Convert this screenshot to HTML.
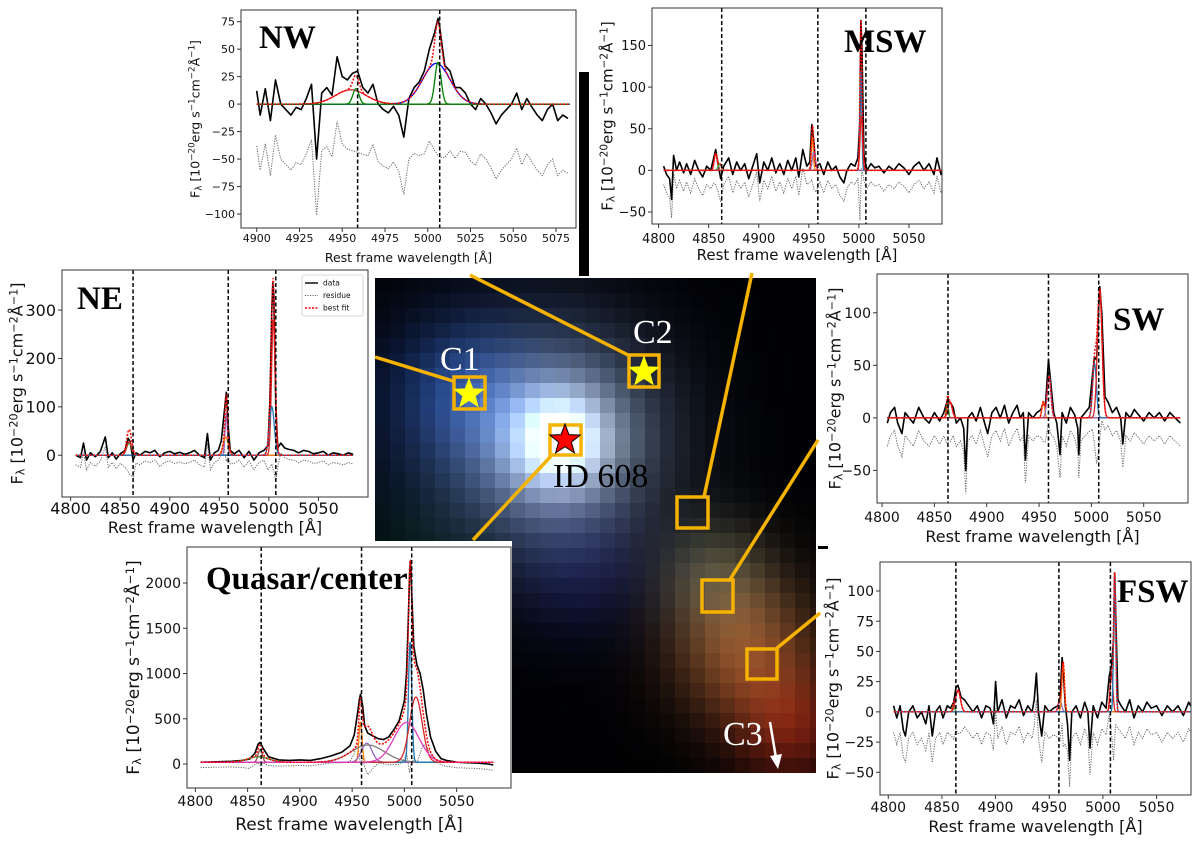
<!DOCTYPE html>
<html><head><meta charset="utf-8"><title>ID 608 spectra</title>
<style>
html,body{margin:0;padding:0;background:#fff;}
svg{display:block;font-family:"DejaVu Sans","Liberation Sans",sans-serif;}
.pl{font-family:"Liberation Serif",serif;font-weight:bold;}
.img-t{font-family:"Liberation Serif",serif;}
</style></head>
<body>
<svg id="fig" width="1200" height="842" viewBox="0 0 1200 842" xmlns="http://www.w3.org/2000/svg">
<defs>
<clipPath id="imgclip"><rect x="375" y="278" width="441" height="495"/></clipPath>
</defs>
<rect x="0" y="0" width="1200" height="842" fill="#fff"/>
<g id="image" clip-path="url(#imgclip)"></g>
<rect x="579" y="72" width="10" height="204" fill="#000"/>
<rect x="818" y="546" width="10" height="3" fill="#000"/>
<rect x="88" y="541" width="424" height="305" fill="#fff"/>
<g id="overlay"></g>
<g id="panels"></g>
</svg>
<script>
// ---------- DATA ----------
const dashedLines = [4863, 4959, 5007];
const nwDashed = [4959, 5007];
const xTicksWide = [4800, 4850, 4900, 4950, 5000, 5050];
const xTicksNW = [4900, 4925, 4950, 4975, 5000, 5025, 5050, 5075];

// NW
const nwWaves = [4900,4902,4905,4908,4911,4914,4917,4920,4923,4926,4929,4932,4935,4938,4941,4944,4947,4950,4953,4956,4959,4962,4965,4968,4971,4974,4977,4980,4983,4986,4989,4992,4995,4998,5001,5004,5006,5007,5010,5013,5016,5019,5022,5025,5028,5031,5034,5037,5040,5043,5046,5049,5052,5055,5058,5061,5064,5067,5070,5073,5076,5079,5082];
const nwFlux = [12,-10,14,-15,22,0,-5,-10,-3,-5,5,18,-50,10,15,8,43,25,22,28,30,15,10,18,0,-5,-8,-2,-10,-30,5,15,20,30,50,65,78,70,35,30,15,15,10,0,-5,5,0,-8,-18,-10,-5,0,10,-5,5,-3,-10,-15,-5,0,-15,-10,-13];
const nwCenters = [4955, 4958, 5005, 5006];
const nwAmps = [13, 14, 37, 38];
const nwSigmas = [9, 1.8, 8, 1.8];
const nwYTicks = [-100,-75,-50,-25,0,25,50,75];

// MSW
const mswWaves = [4805,4808,4811,4813,4815,4818,4821,4825,4828,4832,4836,4840,4844,4848,4852,4855,4857,4859,4862,4865,4870,4874,4878,4882,4886,4890,4894,4898,4901,4905,4909,4913,4917,4921,4925,4929,4933,4937,4940,4944,4948,4951,4953,4955,4957,4961,4965,4969,4973,4977,4981,4985,4988,4992,4996,4999,5001,5002,5003,5005,5008,5012,5016,5020,5025,5030,5035,5040,5045,5050,5055,5060,5065,5070,5075,5078,5082,5085];
const mswFlux = [5,-5,-10,-35,18,0,10,-3,8,-5,12,0,-8,5,0,15,25,10,-10,5,15,-5,10,0,8,-10,5,20,-15,10,0,15,-3,8,-5,12,0,15,-8,25,5,10,55,35,5,8,-5,10,0,5,-8,-15,0,8,5,15,60,180,150,20,0,8,3,5,-3,5,0,8,3,-5,5,10,0,8,-5,15,-5,5];
const mswCenters = [4857, 4861, 4953.5, 4955, 5002, 5002.5];
const mswAmps = [20, 8, 40, 22, 120, 65];
const mswSigmas = [1.5, 1.5, 1, 1.5, 0.9, 1.3];
const mswYTicks = [-50,0,50,100,150];

// NE
const neWaves = [4805,4810,4813,4816,4820,4825,4830,4835,4838,4842,4846,4850,4855,4858,4860,4863,4866,4870,4875,4880,4885,4890,4895,4900,4905,4910,4915,4920,4925,4930,4935,4938,4941,4945,4949,4952,4955,4957,4959,4961,4965,4970,4975,4980,4985,4990,4995,4999,5001,5003,5004,5005,5007,5009,5012,5016,5020,5025,5030,5035,5040,5045,5050,5055,5060,5065,5070,5075,5080,5085];
const neFlux = [0,-5,25,-10,5,-3,8,38,-5,5,-8,3,10,35,28,-10,5,0,8,5,10,-3,5,8,3,6,2,5,10,0,-5,45,-10,5,10,30,90,130,60,10,3,10,-5,8,-10,5,10,20,110,300,355,330,100,15,25,15,12,10,5,10,8,3,5,8,0,5,3,0,5,2];
const neCenters = [4859, 4859, 4957, 4956.5, 5004.5, 5003];
const neAmps = [25, 28, 85, 38, 280, 100];
const neSigmas = [2.5, 2.5, 1.2, 2.5, 1.8, 2.5];
const neYTicks = [0,100,200,300];

// Quasar / center
const qWaves = [4805,4820,4835,4845,4852,4857,4860,4862,4865,4870,4880,4890,4900,4910,4920,4930,4940,4948,4952,4955,4957,4958,4960,4962,4965,4970,4975,4980,4985,4990,4995,5000,5002,5004,5005,5006,5007,5009,5012,5015,5018,5021,5025,5030,5035,5040,5050,5060,5070,5080,5085];
const qFlux = [20,25,30,40,55,120,220,240,170,80,45,40,45,40,60,90,130,200,320,550,720,770,650,420,340,310,280,270,300,380,480,700,1000,1700,2100,2250,1900,1300,1100,1000,820,560,300,140,60,40,20,15,10,0,-10];
const qCenters = [4860, 4862, 4958, 4964, 4965, 5005.5, 5011, 5002];
const qAmps = [60, 140, 440, 210, 190, 1330, 720, 440];
const qSigmas = [10, 2, 1.5, 5, 16, 1.6, 6, 12];
const qCont = 20;
const qYTicks = [0,500,1000,1500,2000];

// SW
const swWaves = [4805,4808,4812,4815,4819,4822,4826,4830,4835,4840,4845,4850,4855,4859,4862,4865,4868,4871,4875,4878,4880,4882,4886,4890,4894,4898,4901,4905,4909,4913,4917,4921,4925,4929,4932,4935,4937,4940,4944,4948,4952,4954,4956,4958,4959,4961,4964,4967,4970,4972,4976,4980,4984,4987,4988,4990,4994,4998,5001,5003,5005,5007,5008,5010,5013,5016,5020,5024,5028,5030,5033,5037,5041,5045,5050,5055,5060,5065,5070,5075,5080,5085];
const swFlux = [-5,5,10,-5,-15,5,0,-5,10,0,-5,5,-3,5,15,15,10,-5,0,-10,-50,0,5,-3,10,-5,-15,5,10,0,12,-5,5,12,0,5,-40,5,0,5,8,15,10,40,55,35,5,-5,-35,5,-5,10,3,-10,-35,0,5,10,40,58,55,105,125,100,20,15,5,10,0,-25,5,0,8,3,-3,5,0,5,-3,5,0,-5];
const swCenters = [4862.5, 4865, 4954, 4959.5, 5003, 5008];
const swAmps = [14, 15, 15, 40, 52, 122];
const swSigmas = [1, 2, 1.3, 1.8, 1.8, 2.2];
const swYTicks = [-50,0,50,100];

// FSW
const fswWaves = [4805,4808,4811,4814,4816,4819,4823,4827,4831,4835,4838,4841,4844,4848,4851,4855,4858,4861,4863,4865,4868,4871,4875,4879,4883,4887,4891,4895,4898,4900,4902,4906,4910,4914,4918,4922,4926,4930,4934,4936,4938,4940,4943,4946,4950,4954,4958,4960,4962,4963,4965,4967,4969,4971,4975,4979,4983,4986,4988,4991,4995,4999,5003,5006,5008,5010,5011,5012,5014,5017,5021,5025,5029,5033,5037,5041,5045,5050,5055,5060,5065,5070,5075,5080,5085];
const fswFlux = [5,-5,5,-15,-20,0,5,-5,0,-10,5,-20,0,5,-5,5,3,8,20,22,12,10,5,0,5,-5,5,3,-10,25,0,10,-5,5,3,10,-3,5,0,10,32,0,-20,5,0,3,5,10,45,35,5,-10,-40,0,5,-5,8,0,-30,5,-5,8,3,30,38,60,115,80,10,5,0,10,-5,5,0,8,3,5,-3,5,0,5,-3,8,0];
const fswCenters = [4861, 4865, 4960, 4963, 5008, 5011];
const fswAmps = [5, 18, 10, 40, 32, 113];
const fswSigmas = [1, 2.2, 1.5, 1.2, 1.3, 1];
const fswYTicks = [-50,-25,0,25,50,75,100];

// ---------- STYLE / LAYOUT (not data) ----------
const NS = "http://www.w3.org/2000/svg";
function mk(parent, tag, attrs) {
  const e = document.createElementNS(NS, tag);
  for (const k in attrs) e.setAttribute(k, attrs[k]);
  parent.appendChild(e);
  return e;
}
const C = {blue:'#1f77b4', orange:'#ff7f0e', green:'#2ca02c', red:'#d62728', purple:'#9467bd', brown:'#8c564b', pink:'#e377c2', gray:'#7f7f7f'};

const panels = [
 {name:'nw', label:'NW', lx:259, ly:48, box:[241,10,576,228], xl:[4890.8,5086.7], yl:[-112.7,85.6],
  xt:xTicksNW, yt:nwYTicks, dash:nwDashed, waves:nwWaves, flux:nwFlux, cen:nwCenters, amp:nwAmps, sig:nwSigmas, cont:0,
  colors:['#d62728','#008000','#0000ff','#008000'], base:'#800080', range:[4900,5083], fs:11, lfs:12.5, ylx:195, xtb:242, xlb:262, off:-50},
 {name:'msw', label:'MSW', lx:844, ly:52, box:[652,8,942,224], xl:[4793.4,5083], yl:[-64.4,195],
  xt:xTicksWide, yt:mswYTicks, dash:dashedLines, waves:mswWaves, flux:mswFlux, cen:mswCenters, amp:mswAmps, sig:mswSigmas, cont:0,
  colors:[C.red,C.green,C.orange,C.purple,C.blue,C.red], base:C.brown, range:[4805,5085], fs:13, lfs:15, ylx:607, xtb:243, xlb:260, off:-22},
 {name:'ne', label:'NE', lx:77, ly:309, box:[62,270,368,497], xl:[4791.3,5100], yl:[-86.3,382.8],
  xt:xTicksWide, yt:neYTicks, dash:dashedLines, waves:neWaves, flux:neFlux, cen:neCenters, amp:neAmps, sig:neSigmas, cont:0,
  colors:[C.green,C.red,C.purple,C.orange,C.red,C.blue], base:C.brown, range:[4805,5085], fs:16, lfs:16, ylx:17, xtb:514, xlb:533, off:-20, legend:true},
 {name:'quasar', label:'Quasar/center', lx:206, ly:589, box:[187,547,511,788], xl:[4792,5102], yl:[-265,2398],
  xt:xTicksWide, yt:qYTicks, dash:dashedLines, waves:qWaves, flux:qFlux, cen:qCenters, amp:qAmps, sig:qSigmas, cont:qCont,
  colors:[C.green,C.brown,C.orange,C.purple,C.gray,C.blue,C.red,'#e040c0'], base:C.orange, range:[4805,5085], fs:14, lfs:17, ylx:133, xtb:806, xlb:830, off:-40},
 {name:'sw', label:'SW', lx:1113, ly:330, box:[877,274,1188,503], xl:[4795.2,5092.3], yl:[-81,136.9],
  xt:xTicksWide, yt:swYTicks, dash:dashedLines, waves:swWaves, flux:swFlux, cen:swCenters, amp:swAmps, sig:swSigmas, cont:0,
  colors:[C.green,C.red,C.orange,C.purple,C.blue,C.red], base:C.brown, range:[4805,5085], fs:14, lfs:16, ylx:835, xtb:522, xlb:542, off:-22},
 {name:'fsw', label:'FSW', lx:1117, ly:602, box:[880,562,1191,795], xl:[4792.3,5082.1], yl:[-68.8,124],
  xt:xTicksWide, yt:fswYTicks, dash:dashedLines, waves:fswWaves, flux:fswFlux, cen:fswCenters, amp:fswAmps, sig:fswSigmas, cont:0,
  colors:[C.green,C.red,C.purple,C.orange,C.red,C.blue], base:C.brown, range:[4805,5085], fs:14, lfs:16, ylx:833, xtb:812, xlb:832, off:-22}
];

const root = document.getElementById('panels');
panels.forEach(p => {
  const [x0,y0,x1,y1] = p.box;
  const X = w => x0 + (w - p.xl[0]) / (p.xl[1] - p.xl[0]) * (x1 - x0);
  const Y = v => y1 - (v - p.yl[0]) / (p.yl[1] - p.yl[0]) * (y1 - y0);
  const comp = (i, w) => p.amp[i] * Math.exp(-((w - p.cen[i]) ** 2) / (2 * p.sig[i] ** 2));
  const model = w => { let s = p.cont; for (let i = 0; i < p.cen.length; i++) s += comp(i, w); return s; };
  const g = mk(root, 'g', {});
  
  
  const cp = mk(g, 'clipPath', {id: 'clip-' + p.name});
  mk(cp, 'rect', {x:x0, y:y0, width:x1-x0, height:y1-y0});
  const bg = mk(g, 'rect', {x:x0, y:y0, width:x1-x0, height:y1-y0, fill:'#fff'});
  
  
  const plot = mk(g, 'g', {'clip-path': 'url(#clip-' + p.name + ')'});
  
  

  let rd = '';
  p.waves.forEach((w, i) => { rd += (i ? 'L' : 'M') + X(w).toFixed(1) + ' ' + Y(p.flux[i] - model(w) + p.off).toFixed(1); });
  const res = mk(plot, 'path', {d:rd, fill:'none', stroke:'#666', 'stroke-width':1, 'stroke-dasharray':'1.2 1.3'});
  
  

  let dd = '';
  p.waves.forEach((w, i) => { dd += (i ? 'L' : 'M') + X(w).toFixed(1) + ' ' + Y(p.flux[i]).toFixed(1); });
  const dl = mk(plot, 'path', {d:dd, fill:'none', stroke:'#000', 'stroke-width':1.6, 'stroke-linejoin':'round'});
  
  

  const bl = mk(plot, 'line', {x1:X(p.range[0]), x2:X(p.range[1]), y1:Y(p.cont), y2:Y(p.cont), stroke:p.base, 'stroke-width':1.2});
  
  

  for (let i = 0; i < p.cen.length; i++) {
    let cd = '';
    let first = true;
    for (let w = p.range[0]; w <= p.range[1]; w += 0.25) {
      cd += (first ? 'M' : 'L') + X(w).toFixed(1) + ' ' + Y(comp(i, w) + p.cont).toFixed(1);
      first = false;
    }
    const cl = mk(plot, 'path', {d:cd, fill:'none', stroke:p.colors[i], 'stroke-width':1.3});
    
    
  }
  let td = '';
  let f2 = true;
  for (let w = p.range[0]; w <= p.range[1]; w += 0.25) {
    td += (f2 ? 'M' : 'L') + X(w).toFixed(1) + ' ' + Y(model(w)).toFixed(1);
    f2 = false;
  }
  const tl = mk(plot, 'path', {d:td, fill:'none', stroke:'#ff0000', 'stroke-width':1.5, 'stroke-dasharray':'2 1.5'});
  
  

  p.dash.forEach(w => {
    const l = mk(g, 'line', {x1:X(w), x2:X(w), y1:y0, y2:y1, stroke:'#000', 'stroke-width':1.5, 'stroke-dasharray':'4 2.5'});
    
    
  });

  const fr = mk(g, 'rect', {x:x0, y:y0, width:x1-x0, height:y1-y0, fill:'none', stroke:'#333', 'stroke-width':1});
  
  

  p.xt.forEach(t => {
    const tk = mk(g, 'line', {x1:X(t), x2:X(t), y1:y1, y2:y1+4, stroke:'#333', 'stroke-width':1});
    
    
    const tt = mk(g, 'text', {x:X(t), y:p.xtb, 'text-anchor':'middle', 'font-size':p.fs, fill:'#111'});
    tt.textContent = t;
    
    
  });
  p.yt.forEach(t => {
    const tk = mk(g, 'line', {x1:x0-4, x2:x0, y1:Y(t), y2:Y(t), stroke:'#333', 'stroke-width':1});
    
    
    const tt = mk(g, 'text', {x:x0-6, y:Y(t)+p.fs*0.36, 'text-anchor':'end', 'font-size':p.fs, fill:'#111'});
    tt.textContent = String(t).replace('-', '\u2212');
    
    
  });

  const xl = mk(g, 'text', {x:(x0+x1)/2, y:p.xlb, 'text-anchor':'middle', 'font-size':p.lfs, fill:'#111'});
  xl.textContent = 'Rest frame wavelength [\u00c5]';
  
  
  const cy = (y0 + y1) / 2;
  const yl = mk(g, 'text', {x:p.ylx, y:cy, 'text-anchor':'middle', 'font-size':p.lfs, fill:'#111', transform:'rotate(-90 ' + p.ylx + ' ' + cy + ')', dy:'0.35em'});
  yl.innerHTML = 'F<tspan font-size="' + (p.lfs*0.7) + '" dy="2">\u03bb</tspan><tspan dy="-2"> [10</tspan><tspan font-size="' + (p.lfs*0.7) + '" dy="-5">\u221220</tspan><tspan dy="5">erg s</tspan><tspan font-size="' + (p.lfs*0.7) + '" dy="-5">\u22121</tspan><tspan dy="5">cm</tspan><tspan font-size="' + (p.lfs*0.7) + '" dy="-5">\u22122</tspan><tspan dy="5">\u00c5</tspan><tspan font-size="' + (p.lfs*0.7) + '" dy="-5">\u22121</tspan><tspan dy="5">]</tspan>';
  
  

  const pl = mk(g, 'text', {x:p.lx, y:p.ly, 'font-size':33, fill:'#000', class:'pl'});
  pl.textContent = p.label;
  
  

  if (p.legend) {
    const lg = mk(g, 'g', {});
    
    
    mk(lg, 'rect', {x:302, y:275, width:61, height:41, rx:2, fill:'#fff', stroke:'#ccc', 'stroke-width':0.8});
    const ents = [['data','#000','none',1.4],['residue','#666','1.2 1.3',1],['best fit','#ff0000','2 1.5',1.4]];
    ents.forEach((e, i) => {
      const ey = 283 + i * 12.5;
      const ln = mk(lg, 'line', {x1:305, x2:318, y1:ey, y2:ey, stroke:e[1], 'stroke-width':e[3], 'stroke-dasharray':e[2]});
      
      
      const lt = mk(lg, 'text', {x:323, y:ey+2.6, 'font-size':7.5, fill:'#111'});
      lt.textContent = e[0];
      
      
    });
  }
});

// ---------- IMAGE ----------
const blobs = [
 [560,440,35,35,170,170,160],
 [555,440,70,70,115,125,125],
 [510,420,95,85,8,25,70],
 [460,390,45,45,10,30,65],
 [580,570,50,50,10,12,45],
 [745,650,50,50,130,75,35],
 [715,575,40,40,60,65,50],
 [790,725,40,40,100,20,8],
 [420,560,50,50,0,18,8]
];
const img = document.getElementById('image');
for (let r = 0; r < 34; r++) {
  for (let c = 0; c < 30; c++) {
    const px = 375 + c * 15 + 7.5, py = 278 + r * 15 + 7.5;
    let col = [1, 1, 3];
    blobs.forEach(b => {
      const g = Math.exp(-((px-b[0])**2)/(2*b[2]*b[2]) - ((py-b[1])**2)/(2*b[3]*b[3]));
      col[0] += b[4]*g; col[1] += b[5]*g; col[2] += b[6]*g;
    });
    col = col.map(v => Math.min(255, Math.round(v)));
    const rc = mk(img, 'rect', {x:375+c*15, y:278+r*15, width:15.5, height:15.5, fill:'rgb('+col.join(',')+')'});
    
    
  }
}

// ---------- OVERLAY ----------
const ov = document.getElementById('overlay');
const OR = '#f5b300';
const lines = [[470,275,628,355],[375,357,453,381],[473,540,552,455],[752,273,704,497],[818,440,729,581],[820,613,777,648]];
lines.forEach(l => {
  const e = mk(ov, 'line', {x1:l[0], y1:l[1], x2:l[2], y2:l[3], stroke:OR, 'stroke-width':3.5});
  
  
});
const boxes = [[454,377,31,32],[629,355,30,32],[550,425,31,30],[677,497,31,31],[702,580,31,32],[747,649,30,30]];
boxes.forEach(b => {
  const e = mk(ov, 'rect', {x:b[0], y:b[1], width:b[2], height:b[3], fill:'none', stroke:OR, 'stroke-width':3.5});
  
  
});
function star(cx, cy, R) {
  let s = '';
  for (let i = 0; i < 10; i++) {
    const rr = i % 2 ? R * 0.42 : R;
    const a = -Math.PI/2 + i * Math.PI / 5;
    s += (cx + rr*Math.cos(a)).toFixed(1) + ',' + (cy + rr*Math.sin(a)).toFixed(1) + ' ';
  }
  return s;
}
const s1 = mk(ov, 'polygon', {points:star(469,394,16), fill:'#ffff00', stroke:'#ffff00', 'stroke-width':0.5});


const s2 = mk(ov, 'polygon', {points:star(644,372,16), fill:'#ffff00', stroke:'#ffff00', 'stroke-width':0.5});


const s3 = mk(ov, 'polygon', {points:star(565,440,16), fill:'#ff0000', stroke:'#000', 'stroke-width':1});



const labels = [['C1',440,370,'#fff','c1-label'],['C2',633,343,'#fff','c2-label'],['ID 608',553,487,'#000','id-608-label'],['C3',723,745,'#fff','c3-label']];
labels.forEach(t => {
  const e = mk(ov, 'text', {x:t[1], y:t[2], 'font-size':34, fill:t[3], class:'img-t'});
  e.textContent = t[0];
  
  
});
const ar = mk(ov, 'line', {x1:770, y1:722, x2:776, y2:758, stroke:'#fff', 'stroke-width':2.5});


const ah = mk(ov, 'polygon', {points:'770,756 782,754 778,769', fill:'#fff'});


</script>
</body></html>
